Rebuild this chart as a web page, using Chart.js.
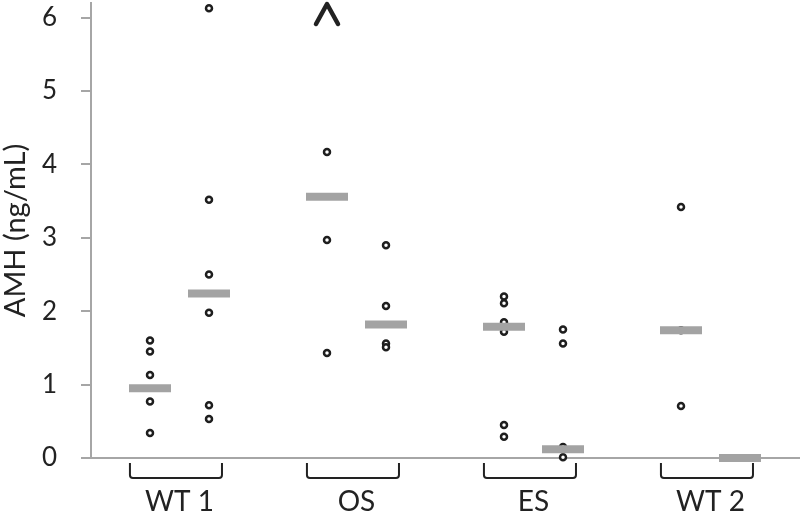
<!DOCTYPE html>
<html lang="en">
<head>
    <meta charset="UTF-8">
    <title>AMH by group</title>
    <script src="https://cdn.jsdelivr.net/npm/chart.js"></script>
    <style>
        html, body { margin: 0; padding: 0; background: #fff; }
        #amhChart { width: 800px; height: 514px; display: block; }
    </style>
</head>
<body>
    <canvas id="amhChart" width="800" height="514"></canvas>

    <script>
        // groups along the x axis, each with two columns
        const groups = ['WT 1', 'OS', 'ES', 'WT 2'];

        // individual AMH values (ng/mL), one array per column
        const columns = [
            [1.60, 1.45, 1.13, 0.77, 0.34],          // WT 1, first
            [6.13, 3.52, 2.50, 1.98, 0.72, 0.53],    // WT 1, second
            [4.17, 2.97, 1.43],                      // OS, first
            [2.90, 2.07, 1.56, 1.51],                // OS, second
            [2.20, 2.11, 1.85, 1.72, 0.45, 0.29],    // ES, first
            [1.75, 1.56, 0.15, 0.01],                // ES, second
            [3.42, 1.74, 0.71],                      // WT 2, first
            []                                       // WT 2, second
        ];

        // grey bar per column
        const columnMeans = [0.95, 2.24, 3.56, 1.82, 1.79, 0.12, 1.74, 0.0];

        // columns with a value above the axis (drawn as ^)
        const offScale = [2];
        const offScaleY = 6.05;

        const yTicks = [0, 1, 2, 3, 4, 5, 6];

        const colX = i => Math.floor(i / 2) * 3 + 1 + (i % 2);

        const pointData = [];
        columns.forEach((col, i) => col.forEach(v => pointData.push({ x: colX(i), y: v })));
        const meanData = columnMeans.map((v, i) => ({ x: colX(i), y: v }));

        const bracketPlugin = {
            id: 'brackets',
            afterDatasetsDraw(chart) {
                const ctx = chart.ctx;
                const xs = chart.scales.x, ys = chart.scales.y;
                const top = ys.bottom + 5, bottom = ys.bottom + 20;
                ctx.save();
                ctx.strokeStyle = '#222';
                ctx.lineWidth = 2;
                groups.forEach((g, i) => {
                    const l = xs.getPixelForValue(i * 3 + 0.66);
                    const r = xs.getPixelForValue(i * 3 + 2.22);
                    ctx.beginPath();
                    ctx.moveTo(l, top);
                    ctx.lineTo(l, bottom - 3);
                    ctx.quadraticCurveTo(l, bottom, l + 3, bottom);
                    ctx.lineTo(r - 3, bottom);
                    ctx.quadraticCurveTo(r, bottom, r, bottom - 3);
                    ctx.lineTo(r, top);
                    ctx.stroke();
                });
                // caret for values above the axis
                ctx.lineWidth = 4.5;
                ctx.lineCap = 'round';
                ctx.lineJoin = 'round';
                offScale.forEach(c => {
                    const x = xs.getPixelForValue(colX(c));
                    const y = ys.getPixelForValue(offScaleY);
                    ctx.beginPath();
                    ctx.moveTo(x - 11, y + 10);
                    ctx.lineTo(x, y - 10);
                    ctx.lineTo(x + 11, y + 10);
                    ctx.stroke();
                });
                ctx.restore();
            }
        };

        const ctx = document.getElementById('amhChart').getContext('2d');
        new Chart(ctx, {
            type: 'scatter',
            data: {
                datasets: [
                    {
                        label: 'Mean',
                        data: meanData,
                        pointStyle: 'line',
                        radius: 21,
                        borderWidth: 8,
                        borderColor: '#a3a3a3',
                        clip: false,
                        order: 0
                    },
                    {
                        label: 'AMH',
                        data: pointData,
                        pointStyle: 'circle',
                        radius: 3,
                        borderWidth: 2.5,
                        borderColor: '#1e1e1e',
                        backgroundColor: '#fff',
                        clip: false,
                        order: 1
                    }
                ]
            },
            options: {
                responsive: false,
                animation: false,
                layout: { autoPadding: false, padding: { top: 3, right: 1, left: 0, bottom: 0 } },
                plugins: {
                    legend: { display: false },
                    tooltip: { enabled: false }
                },
                scales: {
                    x: {
                        type: 'linear',
                        min: 0,
                        max: 12,
                        grid: { display: false },
                        border: { display: true, color: '#a6a6a6', width: 2 },
                        afterBuildTicks: axis => {
                            axis.ticks = groups.map((g, i) => ({ value: i * 3 + 1.5 }));
                        },
                        ticks: {
                            autoSkip: false,
                            maxRotation: 0,
                            padding: 19,
                            color: '#222',
                            font: { family: 'Lato', size: 28 },
                            callback: (v, i) => groups[i]
                        },
                        afterFit: axis => {
                            axis.height = 56;
                            axis.paddingLeft = 0;
                            axis.paddingRight = 0;
                        }
                    },
                    y: {
                        min: 0,
                        max: 6.2,
                        afterBuildTicks: axis => {
                            axis.ticks = yTicks.map(v => ({ value: v }));
                        },
                        grid: {
                            drawOnChartArea: false,
                            drawTicks: true,
                            tickLength: 10,
                            color: '#a6a6a6',
                            lineWidth: 2
                        },
                        border: { display: true, color: '#a6a6a6', width: 2 },
                        ticks: {
                            padding: 24,
                            color: '#222',
                            font: { family: 'Lato', size: 26 }
                        },
                        title: {
                            display: true,
                            text: 'AMH (ng/mL)',
                            color: '#222',
                            padding: { top: 1, bottom: 0 },
                            font: { family: 'Lato', size: 29, lineHeight: 1 }
                        },
                        afterFit: axis => {
                            axis.width = 91;
                            axis.paddingTop = 0;
                            axis.paddingBottom = 0;
                        }
                    }
                }
            },
            plugins: [bracketPlugin]
        });
    </script>
</body>
</html>
